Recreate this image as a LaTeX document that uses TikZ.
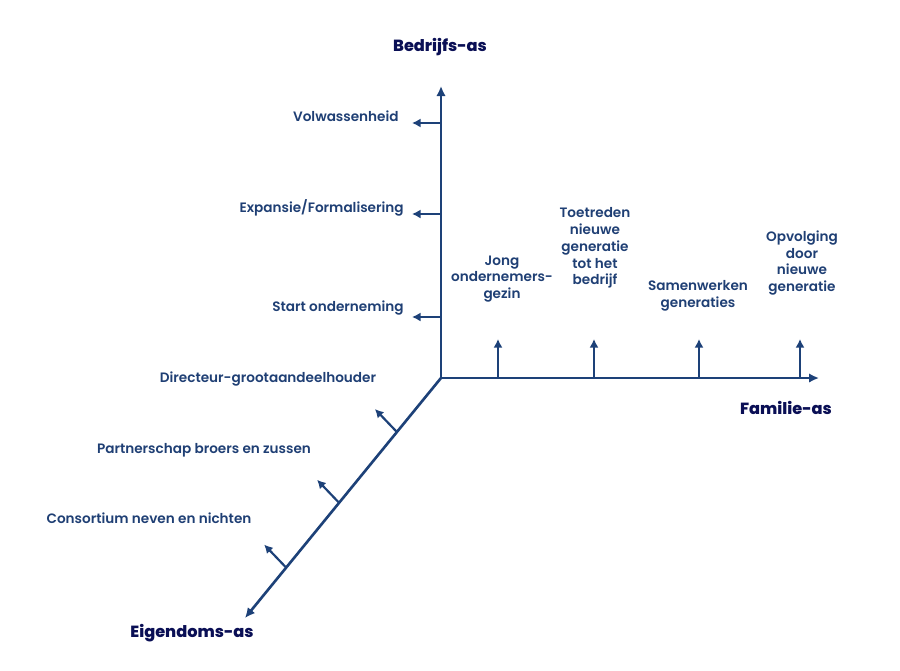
\documentclass[tikz,border=0pt]{standalone}
\usepackage{fontspec}
\setmainfont{Poppins}[UprightFont=* SemiBold, BoldFont=* ExtraBold]
\usetikzlibrary{arrows.meta,calc}
\definecolor{axisblue}{HTML}{1D4178}
\definecolor{labelblue}{HTML}{1F3F74}
\definecolor{titleblue}{HTML}{0A0F55}
\tikzset{
  axis/.style={-{Latex[length=2mm,width=1.9mm]}, line width=1.5pt, draw=axisblue},
  tick/.style={-{Latex[length=1.7mm,width=1.8mm]}, line width=1.25pt, draw=axisblue},
  lab/.style={text=labelblue, font=\fontsize{7.75}{9.6}\selectfont, inner sep=0pt},
  stack/.style={lab, align=center},
  axtitle/.style={text=titleblue, font=\bfseries\fontsize{9.2}{11}\selectfont, inner sep=0pt}
}

\begin{document}
\begin{tikzpicture}[x=0.02cm,y=-0.02cm]
  \useasboundingbox (0,0) rectangle (900,670);
  \coordinate (O) at (441,378);
  \coordinate (Btop) at (441,86);
  \coordinate (Fend) at (819,378);
  \coordinate (Eend) at (245,618);

  % the three axes
  \draw[axis] (O) -- (Btop);
  \draw[axis] (O) -- (Fend);
  \draw[axis] (O) -- (Eend);

  % ticks
  \foreach \n/\y in {a/123,b/214,c/317} {
    \coordinate (b\n) at (441,\y);
    \coordinate (bt\n) at (412,\y);
    \draw[tick] (b\n) -- (bt\n);
  }
  \foreach \n/\x in {a/498,b/594,c/699,d/800} {
    \coordinate (f\n) at (\x,378);
    \coordinate (ft\n) at (\x,339);
    \draw[tick] (f\n) -- (ft\n);
  }
  \foreach \n/\t in {a/0.225,b/0.52,c/0.79} {
    \coordinate (e\n) at ($(O)!\t!(Eend)$);
    \coordinate (et\n) at ($(e\n)+(-22,-23)$);
    \draw[tick] (e\n) -- (et\n);
  }

  % axis titles
  \node[axtitle] (bedrijf) at (440,47) {Bedrijfs-as};
  \node[axtitle] (familie) at (786,408) {Familie-as};
  \node[axtitle] (eigendom) at (192,633) {Eigendoms-as};

  % Bedrijfs-as
  \node[lab, anchor=east] (volw) at (399,116) {Volwassenheid};
  \node[lab, anchor=east] (expa) at (404,208) {Expansie/Formalisering};
  \node[lab, anchor=east] (start) at (404,308) {Start onderneming};

  % Eigendoms-as
  \node[lab] (dga) at (268,379) {Directeur-grootaandeelhouder};
  \node[lab] (partner) at (204,450) {Partnerschap broers en zussen};
  \node[lab] (consort) at (149,518) {Consortium neven en nichten};

  % Familie-as
  \node[stack] (jong) at (502,279) {Jong\\ondernemers-\\gezin};
  \node[stack] (toetr) at (595,248) {Toetreden\\nieuwe\\generatie\\tot het\\bedrijf};
  \node[stack] (samen) at (698,296) {Samenwerken\\generaties};
  \node[stack] (opvolg) at (802,263) {Opvolging\\door\\nieuwe\\generatie};
\end{tikzpicture}
\end{document}
